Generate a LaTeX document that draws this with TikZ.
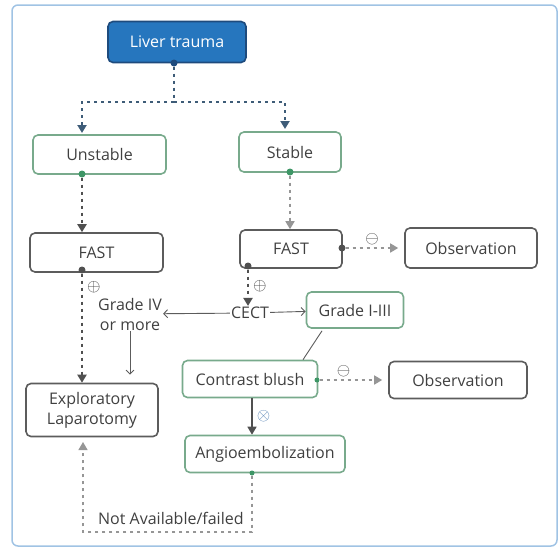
\documentclass[tikz,border=0pt]{standalone}
\usepackage{fontspec}
\setmainfont{Open Sans}
\usetikzlibrary{arrows.meta,calc,positioning}

\definecolor{framebl}{RGB}{160,195,228}
\definecolor{trauma}{RGB}{38,118,190}
\definecolor{traumaedge}{RGB}{30,75,125}
\definecolor{linkbl}{RGB}{62,92,120}
\definecolor{boxgray}{RGB}{92,92,92}
\definecolor{boxgreen}{RGB}{120,170,140}
\definecolor{knobgreen}{RGB}{62,150,102}
\definecolor{knobgray}{RGB}{80,80,80}
\definecolor{textgray}{RGB}{64,64,64}
\definecolor{faintgray}{RGB}{150,150,150}
\definecolor{signblue}{RGB}{85,130,180}

\begin{document}
\begin{tikzpicture}[x=1pt,y=-1pt,>={Triangle[width=9pt,length=8pt]},
	box/.style={draw=boxgray,line width=1.6pt,rounded corners=5pt,fill=white,text=textgray,
		font=\fontsize{16}{20}\selectfont,align=center,inner sep=0pt},
	greenbox/.style={box,draw=boxgreen},
	note/.style={text=textgray,font=\fontsize{16}{20}\selectfont,align=center,inner sep=1pt},
	knob/.style={circle,fill=knobgreen,inner sep=0pt,minimum size=7pt},
	link/.style={draw=linkbl,line width=2pt,dash pattern=on 3pt off 4pt},
	graylink/.style={link,draw=knobgray},
	faint/.style={link,draw=faintgray,line width=1.6pt},
	fine/.style={draw=boxgray,line width=0.9pt,-{Straight Barb[length=4pt]}},
	sign/.style={font=\fontsize{17}{17}\selectfont,text=textgray,inner sep=1pt}]
	\useasboundingbox (0,0) rectangle (559,549);
	\draw[framebl,line width=1.5pt,rounded corners=6pt] (12,5) rectangle (557,546);

	\node[box,fill=trauma,draw=traumaedge,text=white,minimum width=138pt,minimum height=41pt] (liver) at (177,42) {Liver trauma};
	\node[greenbox,minimum width=133pt,minimum height=39pt] (unstable) at (99.5,154.5) {Unstable};
	\node[greenbox,minimum width=102pt,minimum height=40pt] (stable) at (290,152) {Stable};
	\node[box,minimum width=133pt,minimum height=39pt] (fast_l) at (96.5,252.5) {FAST};
	\node[box,minimum width=102pt,minimum height=38pt] (fast_r) at (291,249) {FAST};
	\node[box,minimum width=132pt,minimum height=40pt] (obs_1) at (471,248) {Observation};
	\node[note] (cect) at (250,313) {CECT};
	\node[note] (grade_hi) at (130,314) {Grade IV\\or more};
	\node[greenbox,minimum width=97pt,minimum height=36pt] (grade_lo) at (355,310) {Grade I-III};
	\node[greenbox,minimum width=135pt,minimum height=37pt] (blush) at (250,379) {Contrast blush};
	\node[box,minimum width=138pt,minimum height=37pt] (obs_2) at (458,380) {Observation};
	\node[greenbox,minimum width=160pt,minimum height=37pt] (angio) at (265,454) {Angioembolization};
	\node[box,minimum width=132pt,minimum height=53pt] (explap) at (92,410) {Exploratory\\Laparotomy};

	% connection points
	\node[knob,fill=traumaedge] (k_liver) at (174,63) {};
	\node[knob] (k_unstable) at (82,174) {};
	\node[knob] (k_stable) at (290,172) {};
	\node[knob,fill=knobgray] (k_fastl) at (82,270) {};
	\node[knob,fill=knobgray] (k_fastr_e) at (342,248) {};
	\node[knob,fill=knobgray] (k_fastr_s) at (248,266) {};
	\node[knob,minimum size=5pt] (k_blush) at (317,380) {};
	\node[knob,minimum size=5pt] (k_angio) at (252,473) {};
	\coordinate (split) at (174,102);
	\coordinate (to_unstable) at (82,133);
	\coordinate (to_stable) at (285,129);
	\coordinate (turn) at (252,532);
	\coordinate (to_explap) at (83,442);

	\draw[link] (k_liver) -- (split);
	\draw[link,->] (split) -| (to_unstable);
	\draw[link,->] (split) -| (to_stable);
	\draw[graylink,->] (k_unstable.south) -- (k_unstable |- fast_l.north);
	\draw[faint,->] (k_stable.south) -- (k_stable |- fast_r.north);
	\draw[graylink,->] (k_fastl.south) -- (k_fastl |- explap.north)
		node[sign,pos=0.12,right=3pt] {$\oplus$};
	\draw[faint,->,shorten >=6pt] (k_fastr_e.east) -- (obs_1.west)
		node[sign,pos=0.45,above=1pt] {$\ominus$};
	\draw[graylink,->] (k_fastr_s.south) -- (k_fastr_s |- cect.north)
		node[sign,pos=0.45,right=3pt] {$\oplus$};
	\draw[fine] (cect) -- (grade_hi);
	\draw[fine] (cect) -- (grade_lo);
	\draw[fine,shorten >=8pt] (grade_hi) -- (grade_hi |- explap.north);
	\draw[draw=boxgray,line width=0.9pt] ($(grade_lo.south)+(-33,2)$) -- ($(blush.north)+(53,0)$);
	\draw[faint,->,shorten >=6pt] (k_blush.east) -- (obs_2.west)
		node[sign,pos=0.35,above=1pt] {$\ominus$};
	\draw[draw=knobgray,line width=1.5pt,->] (blush.south -| k_angio) -- (angio.north -| k_angio)
		node[sign,midway,right=3pt,text=signblue] {$\otimes$};
	\draw[faint,line width=1.2pt,->] (k_angio.south) -- (turn) -| (to_explap)
		node[note,pos=0.24,above=6pt] {Not Available/failed};
\end{tikzpicture}
\end{document}
